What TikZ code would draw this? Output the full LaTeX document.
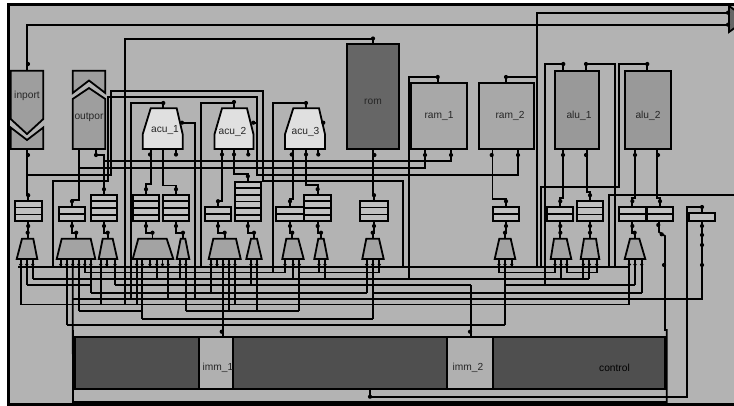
\documentclass[tikz,border=0pt]{standalone}
\usepackage{fontspec}
\setmainfont{Liberation Sans}
\usetikzlibrary{calc}
\definecolor{panelgray}{HTML}{B3B3B3}
\definecolor{portgray}{HTML}{9E9E9E}
\definecolor{acugray}{HTML}{E0E0E0}
\definecolor{romgray}{HTML}{666666}
\definecolor{ramgray}{HTML}{A8A8A8}
\definecolor{alugray}{HTML}{999999}
\definecolor{reggray}{HTML}{C0C0C0}
\definecolor{muxgray}{HTML}{A3A3A3}
\definecolor{ctrlgray}{HTML}{4F4F4F}
\definecolor{immgray}{HTML}{B0B0B0}
\tikzset{
  wire/.style={line width=1.8pt},
  edge/.style={line width=1.8pt,draw=black},
  block/.style={edge,inner sep=0pt,outer sep=0pt},
  blocklabel/.style={inner sep=0pt,text=black!85,font=\fontsize{10.2}{12}\selectfont},
}

\begin{document}
\begin{tikzpicture}[x=1pt,y=-1pt]
  \useasboundingbox (0,0) rectangle (734,405);
  % 外框
  \draw[line width=2.6pt,fill=panelgray] (8.7,4.7) rectangle (740,404.2);

  % 总线高度
  \foreach \n/\y in {busa/266.7,busb/272.5,busc/278.7,busd/285,buse/292.7,busf/298.7,busg/304.5,bush/310.7,busi/318.7,busj/325}
    \coordinate (\n) at (0,\y);
  \coordinate (via) at (0,232.7);

  % 端口坐标
  \coordinate (inpt) at (26.7,70.7);
  \coordinate (inpb) at (26.7,149);
  \coordinate (outpa) at (79.3,149);
  \coordinate (outpb) at (95.7,149);
  \coordinate (acu1t) at (163.3,108.3);
  \coordinate (acu1r) at (182,122.7);
  \coordinate (acu1b) at (151,149);
  \coordinate (acu1c) at (162.7,149);
  \coordinate (acu2t) at (234,108.3);
  \coordinate (acu2r) at (253.3,122.7);
  \coordinate (acu2b) at (221.7,149);
  \coordinate (acu2c) at (234,149);
  \coordinate (acu3t) at (306,108.3);
  \coordinate (acu3b) at (293.3,149);
  \coordinate (acu3c) at (305.7,149);
  \coordinate (romb) at (373.3,149);
  \coordinate (ram1t) at (437.7,83);
  \coordinate (ram1a) at (425,149);
  \coordinate (ram1b) at (451,149);
  \coordinate (ram2t) at (506,83);
  \coordinate (ram2a) at (492.5,149);
  \coordinate (ram2b) at (518.3,149);
  \coordinate (alu1t) at (563.3,70.7);
  \coordinate (alu1u) at (586,70.7);
  \coordinate (alu1a) at (562.7,149);
  \coordinate (alu1b) at (586.7,149);
  \coordinate (alu2t) at (647.3,70.7);
  \coordinate (alu2a) at (635,149);
  \coordinate (alu2b) at (656.7,149);
  \coordinate (exita) at (728.5,12.7);
  \coordinate (exitb) at (728.5,24.7);
  \coordinate (ctrlo) at (370,388.7);
  \coordinate (imm1i) at (223.3,336.7);
  \coordinate (imm2i) at (471,336.7);

  % 选择器输入线
  \foreach \p/\x/\b in {m1a/20.7/busg,m1b/26.7/busd,m1c/32.7/busc,
      m2a/60.7/busa,m2b/66.7/busj,m2c/72.7/busa,m2d/78.7/bush,m2e/84.7/busb,m2f/90.7/buse,
      m3a/100.7/busg,m3b/106.7/busa,m3c/115/busd,
      m4a/136.7/busg,m4b/142.3/busi,m4c/150/busa,m4d/156.7/busc,m4e/162.5/busa,m4f/168.3/busf,
      m5a/180/busc,m5b/185.7/bush,
      m6a/211/buse,m6b/217/busa,m6c/223.3/busa,m6d/229/bush,m6e/235/busg,
      m7a/251/busd,m7b/256.7/bush,
      m8a/285/busb,m8b/293.3/busc,m8c/299.3/bush,
      m9a/319/busb,m9b/325/busc,
      m10a/366.7/buse,m10b/372.7/busi,m10c/379.3/busb,
      m11a/499/busb,m11b/505/busj,m11c/511.7/busa,
      m12a/555/busb,m12b/561/busc,m12c/566.7/busb,
      m13a/583.3/busc,m13b/589.3/busc,m13c/596.7/busb,
      m14a/629.3/busg,m14b/635/busd,m14c/641.7/buse}{
    \coordinate (\p) at (\x,259);
    \draw[wire] (\p) -- (\p |- \b);
    \fill (\x,264.6) circle (1.8pt);
  }

  % 总线
  \coordinate (busstart) at (18.3,266.7);
  \draw[wire] (busstart) -- (m14a |- busa);
  \foreach \a/\z/\b in {m2e/m8a/busb,m8c/m10c/busb,m11a/m12a/busb,m12c/m13c/busb,
      m1c/m13b/busc,m1b/m2f/busd,m3c/imm2i/busd,m11b/m14b/busd,
      m2f/m10a/buse,m10b/m14c/buse,m1a/m14a/busg,
      m2d/m4b/bush,m5b/m8c/bush,m4b/m10b/busi,m2b/m11b/busj}
    \draw[wire] (\a |- \b) -- (\z |- \b);

  % 长连线
  \coordinate (wa) at (110.7,175);
  \coordinate (wb) at (263.3,91);
  \coordinate (wc) at (403.3,181);
  \coordinate (wd) at (257.3,175);
  \coordinate (we) at (108.3,97);
  \coordinate (wf) at (52.7,181);
  \coordinate (wg) at (125,38.7);
  \coordinate (wh) at (130.7,103);
  \coordinate (wi) at (195,0);
  \coordinate (wj) at (200.7,103);
  \coordinate (wk) at (273,103);
  \coordinate (wl) at (409,77);
  \coordinate (wm) at (536.7,77);
  \coordinate (wn) at (545,64);
  \coordinate (wo) at (615,64);
  \coordinate (wp) at (619,64);
  \coordinate (wq) at (540.7,186.7);
  \coordinate (wr) at (609.3,195);
  \coordinate (ws) at (686.7,396.7);
  \coordinate (wt) at (702,206.7);
  \coordinate (wu) at (666.7,402);
  \coordinate (wv) at (451,161);
  \coordinate (ww) at (425,168.3);
  \draw[wire] (inpt) |- (exitb);
  \draw[wire] (wg |- busg) -- (wg) -| (373,44.3);
  \draw[wire] (inpb |- wa) -- (wa) |- (wb) |- (wc) -- (wc |- busa);
  \draw[wire] (ram2b) |- (wd) |- (we) |- (wf) -- (wf |- busa);
  \draw[wire] (ram1b) -- (wv) -- (105,161);
  \draw[wire] (ram1a) -- (ww) -- (outpa |- ww);
  \draw[wire] (acu1t) |- (wh) -- (wh |- busf);
  \draw[wire] (acu1r) -| (wi |- busf);
  \draw[wire] (acu2t) |- (wj) -- (wj |- busa);
  \draw[wire] (acu2r) -- (wd |- acu2r);
  \draw[wire] (acu3t) |- (wk) -- (wk |- busb);
  \draw[wire] (ram1t) |- (wl) -- (wl |- busc);
  \draw[wire] (ram2t) |- (wm);
  \draw[wire] (exita) -| (wm |- busa);
  \draw[wire] (alu1t) |- (wn) -- (wn |- busd);
  \draw[wire] (alu1u) |- (wo) -- (wo |- busa);
  \draw[wire] (alu2t) |- (wp) |- (wq) -- (wq |- busa);
  \draw[wire] (740,195) -| (wr |- busa);
  \draw[wire] (ctrlo) |- (ws) |- (wt) -- (702,212.7);
  \draw[wire] (702,221.3) -- (702,298.7) -- (m2c |- busf);
  \draw[wire] (659,221.3) -- (659,232) -- (665,236) -- (665,330) -- (666.7,330) -- (wu) -- (73,402) -- (m2c);
  \draw[wire] (m6c) -- (imm1i);
  \draw[wire] (imm2i |- busd) -- (imm2i);

  % 寄存器
  \foreach \n/\xa/\ya/\xb/\yb/\cells in {rega/14.7/200.7/41.7/221.3/3,regb/58.7/206.7/85.3/221.3/2,
      regc/90.7/194.7/117.3/221.3/4,regd/132.7/194.7/159.3/221.3/4,rege/162.7/194.7/189.3/221.3/4,
      regf/204.7/206.7/231.3/221.3/2,regg/234.7/181.7/261/221.3/6,regh/276.3/206.7/303.7/221.3/2,
      regi/304.3/194.7/331/221.3/4,regj/360.3/200.7/387.7/221.3/3,regk/492.7/206.7/519.3/221.3/2,
      regl/547.3/206.7/573.3/221.3/2,regm/576.7/200.7/603.3/221.3/3,regn/618.7/206.7/646/221.3/2,
      rego/646.7/206.7/673.3/221.3/2}{
    \node[block,fill=reggray,minimum width={(\xb-\xa)*1pt},minimum height={(\yb-\ya)*1pt}] (\n)
      at ({(\xa+\xb)/2},{(\ya+\yb)/2}) {};
    \foreach \k in {2,...,\cells}
      \draw[wire] ($(\n.north west)!{(\k-1)/\cells}!(\n.south west)$) -- ($(\n.north east)!{(\k-1)/\cells}!(\n.south east)$);
  }
  \node[block,fill=reggray,minimum width=26pt,minimum height=8.6pt] (regp) at (702.3,217) {};

  % 选择器
  \foreach \n/\tl/\tr/\bl/\br in {m1/22/33.3/16.7/37.3,m2/61.7/90.7/56.7/95.3,m3/102.7/112.7/98.7/117.3,
      m4/138.3/166.7/132.7/173.3,m5/180.7/185.3/176.7/189.3,m6/213.3/236/208.7/240.7,
      m7/251/257/246.3/261.7,m8/286.3/298.3/282.3/303.7,m9/318.3/323.7/314.3/327.7,
      m10/366.3/379/362.3/383.7,m11/499.3/510.7/494.7/515.3,m12/554/566.7/550.7/571.3,
      m13/584/596/580.7/599.3,m14/630/639.3/624.7/645.3}{
    \draw[edge,fill=muxgray] (\tl,238.7) -- (\tr,238.7) -- (\br,259) -- (\bl,259) -- cycle;
    \coordinate (\n) at ({(\tl+\tr)/2},238.7);
  }

  % 寄存器到选择器
  \foreach \r/\m in {rega/m1,regb/m2,regc/m3,regd/m4,rege/m5,regf/m6,regg/m7,regh/m8,regi/m9,
      regj/m10,regk/m11,regl/m12,regm/m13,regn/m14}{
    \draw[wire] (\r.south) -- (\r.south |- via) -| (\m);
    \fill (\r.south |- 0,226) circle (2.1pt);
    \fill (\m |- via) circle (2.1pt);
  }

  % 模块到寄存器
  \foreach \p/\r/\h in {inpb/rega/6,outpa/regb/6.7,outpb/regc/39.7,acu1b/regd/10.4,acu1c/rege/9.2,
      acu2b/regf/5.7,acu2c/regg/7.4,acu3b/regh/7.4,acu3c/regi/9.7,romb/regj/6,ram2a/regk/7.4,
      alu1a/regl/9,alu1b/regm/9,alu2a/regn/8.4,alu2b/rego/8.4}{
    \draw[wire] (\p) |- ($(\r.north)+(0,-\h)$) -- (\r.north);
    \fill ($(\r.north)+(0,-5.5)$) circle (2.1pt);
  }

  % 模块
  \draw[edge,fill=portgray] (10.7,70.7) -- (43.3,70.7) -- (43.3,119) -- (27,134) -- (10.7,119) -- cycle;
  \draw[edge,fill=portgray] (10.7,127.5) -- (27,140) -- (43.3,127.5) -- (43.3,149) -- (10.7,149) -- cycle;
  \draw[edge,fill=portgray] (72.7,70.7) -- (105.3,70.7) -- (105.3,93) -- (89,80.5) -- (72.7,93) -- cycle;
  \draw[edge,fill=portgray] (72.7,99) -- (89,88) -- (105.3,99) -- (105.3,149) -- (72.7,149) -- cycle;
  \node[blocklabel] (inportlabel) at (27,96) {inport};
  \node[blocklabel] (outportlabel) at (89,117) {outpor};

  \foreach \n/\x/\a/\b/\c in {acu1/142.7/150.7/176.7/182.7,acu2/214.5/222/247/253.5,acu3/285/293.3/319/325}
    \draw[edge,fill=acugray] (\x,149) -- (\x,134.3) -- (\a,108.3) -- (\b,108.3) -- (\c,134.3) -- (\c,149) -- cycle;
  \node[blocklabel] (acu1label) at (165,130) {acu\_1};
  \node[blocklabel] (acu2label) at (232.5,132) {acu\_2};
  \node[blocklabel] (acu3label) at (305.5,132) {acu\_3};

  \node[block,fill=romgray,minimum width=52.3pt,minimum height=104.7pt] (rom) at (372.85,96.65) {};
  \node[block,fill=ramgray,minimum width=56pt,minimum height=66pt] (ram1) at (439,116) {};
  \node[block,fill=ramgray,minimum width=55.6pt,minimum height=66pt] (ram2) at (506.5,116) {};
  \node[block,fill=alugray,minimum width=44.6pt,minimum height=78.3pt] (alu1) at (577,109.85) {};
  \node[block,fill=alugray,minimum width=46.6pt,minimum height=78.3pt] (alu2) at (648,109.85) {};
  \node[blocklabel] (romlabel) at (373,102) {rom};
  \node[blocklabel] (ram1label) at (439,116) {ram\_1};
  \node[blocklabel] (ram2label) at (510,116) {ram\_2};
  \node[blocklabel] (alu1label) at (579,116) {alu\_1};
  \node[blocklabel] (alu2label) at (648,116) {alu\_2};

  \node[block,fill=ctrlgray,minimum width=123.4pt,minimum height=52pt] (ctrla) at (137,362.7) {};
  \node[block,fill=immgray,minimum width=34pt,minimum height=52pt] (imm1) at (215.7,362.7) {};
  \node[block,fill=ctrlgray,minimum width=214.3pt,minimum height=52pt] (ctrlb) at (339.85,362.7) {};
  \node[block,fill=immgray,minimum width=45.7pt,minimum height=52pt] (imm2) at (469.85,362.7) {};
  \node[block,fill=ctrlgray,minimum width=172.3pt,minimum height=52pt] (ctrl) at (578.85,362.7) {};
  \node[blocklabel] (imm1label) at (218,367.5) {imm\_1};
  \node[blocklabel] (imm2label) at (468,367.5) {imm\_2};
  \node[blocklabel,text=black] (ctrllabel) at (614.5,367.5) {control};

  \draw[edge,fill=romgray] (729,6) -- (736,11) -- (736,27) -- (729,32) -- cycle;

  % 点标记
  \foreach \x/\y in {28/64,28/155,373/38.5,96/155,150/154.5,176/154.5,222/154.5,234/154.5,248.3/154.5,
      291.7/154.5,306/154.5,318.3/154.5,374.4/155,425/155,451/155,491.7/155,518/155,563/155,586/155,658/155,
      635/155,163.3/103,182/122.7,253.3/122.7,323.3/122.7,234/102,306/103,437.7/77,506/77,563.3/64,586/64,
      647.3/64,728/12.7,728/24.7,702/207,702/226,702/235,702/245,702/265,658.3/225,661.7/234.3,664/265,
      370/396.7,221.7/331.7,470/331.7}
    \fill (\x,\y) circle (2.1pt);
  \draw[wire] (176,149) -- (176,154.5);
  \draw[wire] (248.3,149) -- (248.3,154.5);
  \draw[wire] (318.3,149) -- (318.3,154.5);
\end{tikzpicture}
\end{document}
